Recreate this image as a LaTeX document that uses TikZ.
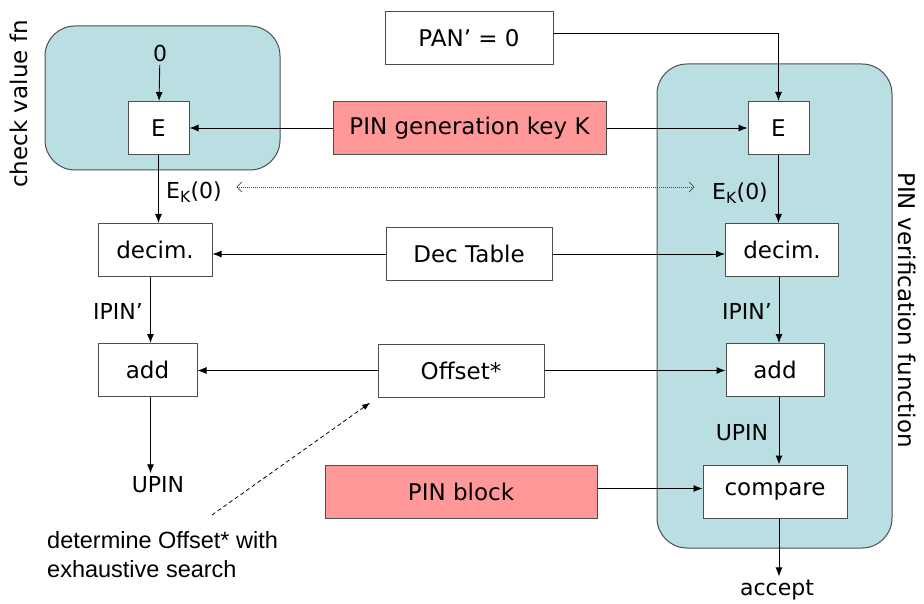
\documentclass[tikz,border=0pt]{standalone}
\usepackage{fontspec}
\setmainfont{DejaVu Sans}
\newfontfamily\notefont{Liberation Sans}
\usetikzlibrary{arrows.meta}
\definecolor{keypink}{HTML}{FF9999}
\definecolor{panelcyan}{HTML}{BADFE2}
\definecolor{edgegray}{HTML}{4D4D4D}

\begin{document}
\begin{tikzpicture}[x=1pt,y=-1pt,
    box/.style={draw=edgegray,line width=1pt,fill=white,minimum height=53pt,inner sep=0pt,font=\fontsize{23}{28}\selectfont},
    keybox/.style={box,fill=keypink},
    lbl/.style={font=\fontsize{22}{26}\selectfont},
    panel/.style={draw=edgegray,line width=1pt,fill=panelcyan,rounded corners=30pt},
    flow/.style={line width=0.9pt,-{Latex[length=9pt,width=7pt]}}]
    \useasboundingbox (0,0) rectangle (924,604);
    % the two function blocks
    \draw[panel] (45,26) rectangle (280,170);
    \draw[panel] (657,64) rectangle (892,548);
    \node[rotate=90,font=\fontsize{23}{28}\selectfont] (cvfn) at (19,104) {check value fn};
    \node[rotate=-90,font=\fontsize{23}{28}\selectfont] (pvfn) at (907,310) {PIN verification function};
    % middle column
    \node[box,minimum width=168pt] (pan) at (469,38) {PAN’ = 0};
    \node[keybox,minimum width=273pt] (key) at (469.5,128) {PIN generation key K};
    \node[box,minimum width=166pt] (dectab) at (469,254) {Dec Table};
    \node[box,minimum width=166pt] (offset) at (461,370.5) {Offset*};
    \node[keybox,minimum width=272pt] (pinblock) at (461,491.5) {PIN block};
    % left column
    \node[lbl] (zero) at (160,53) {0};
    \node[box,minimum width=61pt] (E1) at (158.5,128) {E};
    \node[lbl] (ek1) at (194,192) {E\textsubscript{K}(0)};
    \node[box,minimum width=114pt] (dec1) at (155,250) {decim.};
    \node[lbl] (ipin1) at (118,311) {IPIN’};
    \node[box,minimum width=99pt] (add1) at (147.5,370) {add};
    \node[lbl] (upin1) at (158,485) {UPIN};
    % right column
    \node[box,minimum width=61pt] (E2) at (778.5,128) {E};
    \node[lbl] (ek2) at (740,193) {E\textsubscript{K}(0)};
    \node[box,minimum width=113pt] (dec2) at (782,250) {decim.};
    \node[lbl] (ipin2) at (747,311) {IPIN’};
    \node[box,minimum width=98pt] (add2) at (775,370) {add};
    \node[lbl] (upin2) at (742,433) {UPIN};
    \node[box,minimum width=144pt] (compare) at (775,491.5) {compare};
    \node[lbl] (accept) at (777,590) {accept};
    % note
    \node[font=\notefont\fontsize{23.5}{29}\selectfont,align=left,anchor=north west,inner sep=0pt] (note) at (47,531) {determine Offset* with\\exhaustive search};
    \coordinate (hint) at (212,515);

    % connectors
    \draw[flow] (zero) -- (E1);
    \draw[flow] (key) -- (E1);
    \draw[flow] (key) -- (E2);
    \draw[flow] ([yshift=5pt]pan.east) -| (E2.north);
    \draw[flow] (E1) -- (E1 |- dec1.north);
    \draw[flow] (E2) -- (E2 |- dec2.north);
    \draw[flow] (dectab) -- (dectab -| dec1.east);
    \draw[flow] (dectab) -- (dectab -| dec2.west);
    \draw[flow] ([xshift=3pt]add1.north |- dec1.south) -- ([xshift=3pt]add1.north);
    \draw[flow] ([xshift=4pt]add2.north |- dec2.south) -- ([xshift=4pt]add2.north);
    \draw[flow] (offset) -- (offset -| add1.east);
    \draw[flow] (offset) -- (offset -| add2.west);
    \draw[flow] ([xshift=3pt]add1.south) -- ([xshift=3pt]add1.south |- upin1.north);
    \draw[flow] ([xshift=4pt]compare.north |- add2.south) -- ([xshift=4pt]compare.north);
    \draw[flow] ([yshift=3pt]pinblock.east) -- ([yshift=3pt]pinblock.east -| compare.west);
    \draw[flow] ([xshift=4pt]compare.south) -- ([xshift=4pt]compare.south |- accept.north);
    \draw[edgegray,line width=0.7pt,dash pattern=on 1pt off 1pt,{Straight Barb[length=5pt,width=10pt]}-{Straight Barb[length=5pt,width=10pt]},shorten <=11pt,shorten >=14pt] ([yshift=5pt]ek1.east) -- ([yshift=5pt]ek1.east -| ek2.west);
    \draw[line width=0.8pt,dash pattern=on 4pt off 3pt,-{Latex[length=8pt,width=6pt]},shorten >=9pt] (hint) -- (offset.south west);
\end{tikzpicture}
\end{document}
